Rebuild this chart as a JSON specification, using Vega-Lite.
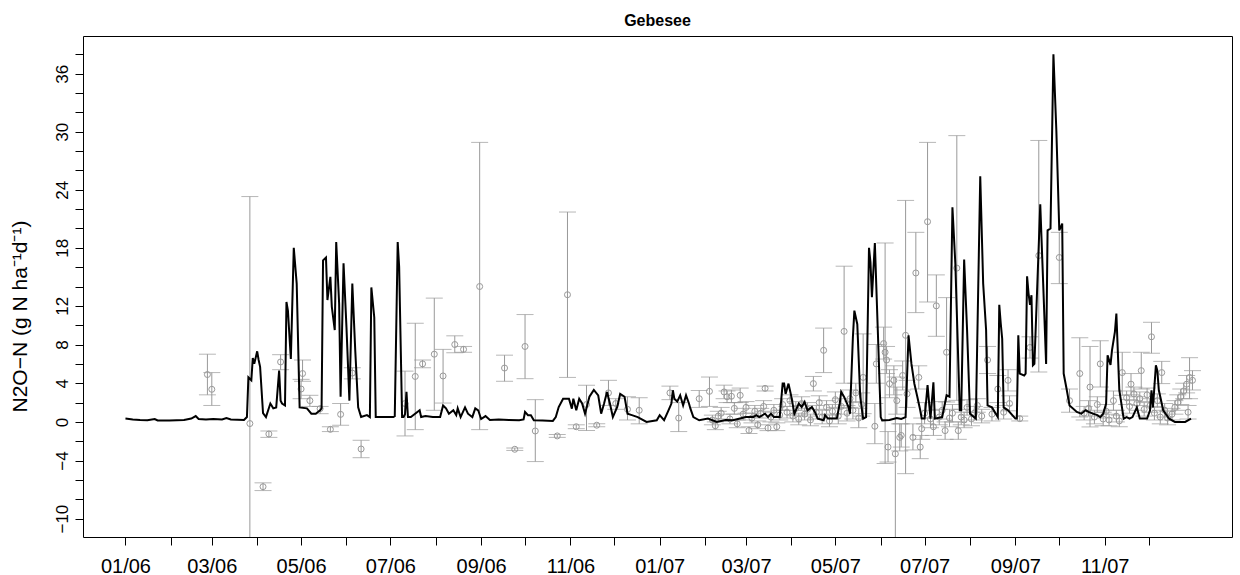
{
  "$schema": "https://vega.github.io/schema/vega-lite/v6.json",
  "autosize": {"type": "none"},
  "padding": {"left": 83, "top": 36, "right": 8, "bottom": 38},
  "width": 1149,
  "height": 501,
  "background": "white",
  "title": {"text": "Gebesee", "fontSize": 16, "fontWeight": "bold", "font": "Liberation Sans", "color": "black", "anchor": "middle", "baseline": "alphabetic", "offset": -6},
  "config": {
    "view": {"stroke": "black", "strokeWidth": 1},
    "axis": {"labelFont": "Liberation Sans", "titleFont": "Liberation Sans", "labelColor": "black", "titleColor": "black", "tickColor": "black", "domain": false, "grid": false, "labelOverlap": false, "labelFlush": false}
  },
  "datasets": {
    "model": [
      {"date": "2006-01-01", "n2o": 0.34}, {"date": "2006-01-06", "n2o": 0.25}, {"date": "2006-01-11", "n2o": 0.2}, {"date": "2006-01-16", "n2o": 0.18}, {"date": "2006-01-21", "n2o": 0.3}, {"date": "2006-01-23", "n2o": 0.15}, {"date": "2006-01-31", "n2o": 0.15}, {"date": "2006-02-10", "n2o": 0.2}, {"date": "2006-02-15", "n2o": 0.35}, {"date": "2006-02-18", "n2o": 0.6}, {"date": "2006-02-20", "n2o": 0.3}, {"date": "2006-02-25", "n2o": 0.25}, {"date": "2006-03-02", "n2o": 0.3}, {"date": "2006-03-08", "n2o": 0.25}, {"date": "2006-03-11", "n2o": 0.4}, {"date": "2006-03-14", "n2o": 0.25}, {"date": "2006-03-23", "n2o": 0.2}, {"date": "2006-03-25", "n2o": 0.5}, {"date": "2006-03-26", "n2o": 4.6}, {"date": "2006-03-28", "n2o": 4.3}, {"date": "2006-03-29", "n2o": 6.6}, {"date": "2006-03-30", "n2o": 6.0}, {"date": "2006-04-01", "n2o": 7.3}, {"date": "2006-04-02", "n2o": 6.4}, {"date": "2006-04-03", "n2o": 5.7}, {"date": "2006-04-05", "n2o": 0.9}, {"date": "2006-04-07", "n2o": 0.5}, {"date": "2006-04-10", "n2o": 1.9}, {"date": "2006-04-12", "n2o": 1.4}, {"date": "2006-04-14", "n2o": 1.5}, {"date": "2006-04-16", "n2o": 5.3}, {"date": "2006-04-17", "n2o": 2.2}, {"date": "2006-04-18", "n2o": 1.9}, {"date": "2006-04-20", "n2o": 1.7}, {"date": "2006-04-21", "n2o": 12.4}, {"date": "2006-04-22", "n2o": 11.5}, {"date": "2006-04-24", "n2o": 6.5}, {"date": "2006-04-26", "n2o": 18.0}, {"date": "2006-04-28", "n2o": 14.3}, {"date": "2006-04-30", "n2o": 1.5}, {"date": "2006-05-05", "n2o": 1.4}, {"date": "2006-05-08", "n2o": 0.85}, {"date": "2006-05-11", "n2o": 0.85}, {"date": "2006-05-14", "n2o": 1.2}, {"date": "2006-05-15", "n2o": 1.4}, {"date": "2006-05-16", "n2o": 16.7}, {"date": "2006-05-18", "n2o": 17.0}, {"date": "2006-05-19", "n2o": 12.6}, {"date": "2006-05-21", "n2o": 15.0}, {"date": "2006-05-22", "n2o": 11.9}, {"date": "2006-05-24", "n2o": 9.5}, {"date": "2006-05-25", "n2o": 18.6}, {"date": "2006-05-27", "n2o": 12.2}, {"date": "2006-05-28", "n2o": 2.6}, {"date": "2006-05-30", "n2o": 16.4}, {"date": "2006-06-01", "n2o": 9.8}, {"date": "2006-06-03", "n2o": 2.2}, {"date": "2006-06-05", "n2o": 14.3}, {"date": "2006-06-07", "n2o": 7.4}, {"date": "2006-06-09", "n2o": 1.5}, {"date": "2006-06-11", "n2o": 0.5}, {"date": "2006-06-15", "n2o": 0.7}, {"date": "2006-06-17", "n2o": 0.5}, {"date": "2006-06-18", "n2o": 13.9}, {"date": "2006-06-20", "n2o": 10.8}, {"date": "2006-06-21", "n2o": 0.5}, {"date": "2006-06-26", "n2o": 0.5}, {"date": "2006-07-03", "n2o": 0.5}, {"date": "2006-07-04", "n2o": 0.6}, {"date": "2006-07-06", "n2o": 18.6}, {"date": "2006-07-07", "n2o": 16.0}, {"date": "2006-07-09", "n2o": 0.5}, {"date": "2006-07-10", "n2o": 0.5}, {"date": "2006-07-11", "n2o": 0.8}, {"date": "2006-07-12", "n2o": 3.1}, {"date": "2006-07-13", "n2o": 0.5}, {"date": "2006-07-15", "n2o": 0.5}, {"date": "2006-07-21", "n2o": 1.2}, {"date": "2006-07-22", "n2o": 0.5}, {"date": "2006-07-25", "n2o": 0.6}, {"date": "2006-07-30", "n2o": 0.5}, {"date": "2006-08-04", "n2o": 0.5}, {"date": "2006-08-06", "n2o": 1.7}, {"date": "2006-08-08", "n2o": 1.4}, {"date": "2006-08-10", "n2o": 0.85}, {"date": "2006-08-13", "n2o": 1.2}, {"date": "2006-08-15", "n2o": 0.7}, {"date": "2006-08-16", "n2o": 1.4}, {"date": "2006-08-18", "n2o": 0.5}, {"date": "2006-08-21", "n2o": 1.5}, {"date": "2006-08-23", "n2o": 0.85}, {"date": "2006-08-26", "n2o": 0.5}, {"date": "2006-08-28", "n2o": 1.4}, {"date": "2006-08-30", "n2o": 1.2}, {"date": "2006-09-01", "n2o": 0.3}, {"date": "2006-09-04", "n2o": 0.6}, {"date": "2006-09-07", "n2o": 0.2}, {"date": "2006-09-13", "n2o": 0.25}, {"date": "2006-09-20", "n2o": 0.2}, {"date": "2006-09-27", "n2o": 0.17}, {"date": "2006-09-30", "n2o": 0.25}, {"date": "2006-10-01", "n2o": 1.03}, {"date": "2006-10-03", "n2o": 0.7}, {"date": "2006-10-05", "n2o": 0.7}, {"date": "2006-10-07", "n2o": 0.17}, {"date": "2006-10-13", "n2o": 0.15}, {"date": "2006-10-20", "n2o": 0.1}, {"date": "2006-10-22", "n2o": 0.5}, {"date": "2006-10-24", "n2o": 1.54}, {"date": "2006-10-27", "n2o": 2.4}, {"date": "2006-10-31", "n2o": 2.4}, {"date": "2006-11-02", "n2o": 1.37}, {"date": "2006-11-03", "n2o": 2.4}, {"date": "2006-11-05", "n2o": 1.2}, {"date": "2006-11-07", "n2o": 2.4}, {"date": "2006-11-09", "n2o": 1.9}, {"date": "2006-11-11", "n2o": 0.85}, {"date": "2006-11-14", "n2o": 2.6}, {"date": "2006-11-17", "n2o": 3.3}, {"date": "2006-11-20", "n2o": 2.75}, {"date": "2006-11-22", "n2o": 0.85}, {"date": "2006-11-24", "n2o": 1.9}, {"date": "2006-11-26", "n2o": 3.1}, {"date": "2006-11-28", "n2o": 1.9}, {"date": "2006-11-30", "n2o": 0.5}, {"date": "2006-12-03", "n2o": 1.54}, {"date": "2006-12-05", "n2o": 2.9}, {"date": "2006-12-08", "n2o": 2.6}, {"date": "2006-12-10", "n2o": 0.85}, {"date": "2006-12-13", "n2o": 0.7}, {"date": "2006-12-17", "n2o": 0.5}, {"date": "2006-12-23", "n2o": 0.0}, {"date": "2006-12-30", "n2o": 0.17},
      {"date": "2007-01-01", "n2o": 0.7}, {"date": "2007-01-04", "n2o": 0.17}, {"date": "2007-01-07", "n2o": 1.2}, {"date": "2007-01-09", "n2o": 1.9}, {"date": "2007-01-10", "n2o": 3.27}, {"date": "2007-01-11", "n2o": 2.4}, {"date": "2007-01-13", "n2o": 2.1}, {"date": "2007-01-15", "n2o": 2.75}, {"date": "2007-01-17", "n2o": 1.7}, {"date": "2007-01-19", "n2o": 2.75}, {"date": "2007-01-21", "n2o": 1.9}, {"date": "2007-01-22", "n2o": 1.37}, {"date": "2007-01-24", "n2o": 0.5}, {"date": "2007-01-28", "n2o": 0.17}, {"date": "2007-02-03", "n2o": 0.34}, {"date": "2007-02-09", "n2o": 0.0}, {"date": "2007-02-15", "n2o": 0.2}, {"date": "2007-02-20", "n2o": 0.17}, {"date": "2007-03-01", "n2o": 0.5}, {"date": "2007-03-06", "n2o": 0.5}, {"date": "2007-03-08", "n2o": 0.7}, {"date": "2007-03-10", "n2o": 0.5}, {"date": "2007-03-14", "n2o": 0.85}, {"date": "2007-03-16", "n2o": 0.5}, {"date": "2007-03-18", "n2o": 0.85}, {"date": "2007-03-20", "n2o": 0.5}, {"date": "2007-03-24", "n2o": 0.5}, {"date": "2007-03-26", "n2o": 3.96}, {"date": "2007-03-27", "n2o": 3.96}, {"date": "2007-03-28", "n2o": 2.9}, {"date": "2007-03-30", "n2o": 3.96}, {"date": "2007-04-01", "n2o": 2.58}, {"date": "2007-04-03", "n2o": 0.85}, {"date": "2007-04-06", "n2o": 1.89}, {"date": "2007-04-08", "n2o": 1.54}, {"date": "2007-04-10", "n2o": 2.06}, {"date": "2007-04-12", "n2o": 1.2}, {"date": "2007-04-15", "n2o": 1.54}, {"date": "2007-04-17", "n2o": 1.03}, {"date": "2007-04-19", "n2o": 0.34}, {"date": "2007-04-23", "n2o": 0.17}, {"date": "2007-04-24", "n2o": 0.7}, {"date": "2007-04-26", "n2o": 0.34}, {"date": "2007-05-02", "n2o": 0.34}, {"date": "2007-05-04", "n2o": 1.89}, {"date": "2007-05-05", "n2o": 3.1}, {"date": "2007-05-07", "n2o": 2.58}, {"date": "2007-05-10", "n2o": 1.54}, {"date": "2007-05-11", "n2o": 0.85}, {"date": "2007-05-13", "n2o": 8.78}, {"date": "2007-05-14", "n2o": 11.5}, {"date": "2007-05-16", "n2o": 10.1}, {"date": "2007-05-18", "n2o": 2.6}, {"date": "2007-05-20", "n2o": 0.34}, {"date": "2007-05-22", "n2o": 0.5}, {"date": "2007-05-24", "n2o": 18.0}, {"date": "2007-05-25", "n2o": 16.5}, {"date": "2007-05-26", "n2o": 12.9}, {"date": "2007-05-28", "n2o": 18.5}, {"date": "2007-05-30", "n2o": 9.5}, {"date": "2007-06-01", "n2o": 0.5}, {"date": "2007-06-02", "n2o": 0.16}, {"date": "2007-06-07", "n2o": 0.2}, {"date": "2007-06-12", "n2o": 0.4}, {"date": "2007-06-15", "n2o": 0.3}, {"date": "2007-06-18", "n2o": 0.5}, {"date": "2007-06-20", "n2o": 8.95}, {"date": "2007-06-22", "n2o": 6.0}, {"date": "2007-06-24", "n2o": 3.95}, {"date": "2007-06-26", "n2o": 2.6}, {"date": "2007-06-28", "n2o": 1.2}, {"date": "2007-06-29", "n2o": 0.34}, {"date": "2007-07-01", "n2o": 0.34}, {"date": "2007-07-03", "n2o": 3.8}, {"date": "2007-07-05", "n2o": 0.34}, {"date": "2007-07-07", "n2o": 4.1}, {"date": "2007-07-08", "n2o": 0.34}, {"date": "2007-07-13", "n2o": 0.5}, {"date": "2007-07-16", "n2o": 2.75}, {"date": "2007-07-18", "n2o": 2.6}, {"date": "2007-07-20", "n2o": 22.2}, {"date": "2007-07-22", "n2o": 16.3}, {"date": "2007-07-25", "n2o": 1.2}, {"date": "2007-07-26", "n2o": 1.2}, {"date": "2007-07-28", "n2o": 16.8}, {"date": "2007-07-30", "n2o": 9.5}, {"date": "2007-08-01", "n2o": 0.85}, {"date": "2007-08-05", "n2o": 0.34}, {"date": "2007-08-08", "n2o": 25.4}, {"date": "2007-08-10", "n2o": 14.3}, {"date": "2007-08-12", "n2o": 9.5}, {"date": "2007-08-13", "n2o": 1.7}, {"date": "2007-08-16", "n2o": 1.5}, {"date": "2007-08-20", "n2o": 0.5}, {"date": "2007-08-21", "n2o": 12.1}, {"date": "2007-08-22", "n2o": 10.2}, {"date": "2007-08-23", "n2o": 8.6}, {"date": "2007-08-24", "n2o": 1.5}, {"date": "2007-08-27", "n2o": 1.2}, {"date": "2007-09-01", "n2o": 0.34}, {"date": "2007-09-02", "n2o": 0.34}, {"date": "2007-09-03", "n2o": 8.95}, {"date": "2007-09-04", "n2o": 5.0}, {"date": "2007-09-07", "n2o": 4.8}, {"date": "2007-09-08", "n2o": 5.0}, {"date": "2007-09-09", "n2o": 15.05}, {"date": "2007-09-10", "n2o": 13.3}, {"date": "2007-09-11", "n2o": 12.1}, {"date": "2007-09-12", "n2o": 13.1}, {"date": "2007-09-13", "n2o": 5.85}, {"date": "2007-09-14", "n2o": 6.0}, {"date": "2007-09-18", "n2o": 22.5}, {"date": "2007-09-20", "n2o": 14.3}, {"date": "2007-09-22", "n2o": 6.0}, {"date": "2007-09-23", "n2o": 19.8}, {"date": "2007-09-25", "n2o": 20.0}, {"date": "2007-09-27", "n2o": 38.0}, {"date": "2007-09-29", "n2o": 30.1}, {"date": "2007-10-01", "n2o": 19.8}, {"date": "2007-10-03", "n2o": 20.5}, {"date": "2007-10-04", "n2o": 5.0}, {"date": "2007-10-06", "n2o": 3.4}, {"date": "2007-10-08", "n2o": 1.7}, {"date": "2007-10-13", "n2o": 1.03}, {"date": "2007-10-16", "n2o": 0.85}, {"date": "2007-10-19", "n2o": 1.2}, {"date": "2007-10-21", "n2o": 1.03}, {"date": "2007-10-24", "n2o": 0.85}, {"date": "2007-10-27", "n2o": 0.7}, {"date": "2007-10-29", "n2o": 0.5}, {"date": "2007-10-31", "n2o": 0.85}, {"date": "2007-11-02", "n2o": 1.9}, {"date": "2007-11-03", "n2o": 6.9}, {"date": "2007-11-05", "n2o": 5.9}, {"date": "2007-11-06", "n2o": 7.4}, {"date": "2007-11-08", "n2o": 9.3}, {"date": "2007-11-09", "n2o": 11.2}, {"date": "2007-11-11", "n2o": 3.3}, {"date": "2007-11-14", "n2o": 0.34}, {"date": "2007-11-16", "n2o": 0.5}, {"date": "2007-11-18", "n2o": 0.34}, {"date": "2007-11-20", "n2o": 0.5}, {"date": "2007-11-23", "n2o": 1.5}, {"date": "2007-11-25", "n2o": 0.34}, {"date": "2007-11-30", "n2o": 0.34}, {"date": "2007-12-02", "n2o": 1.2}, {"date": "2007-12-03", "n2o": 3.26}, {"date": "2007-12-04", "n2o": 1.5}, {"date": "2007-12-06", "n2o": 5.85}, {"date": "2007-12-07", "n2o": 5.3}, {"date": "2007-12-08", "n2o": 3.3}, {"date": "2007-12-11", "n2o": 1.2}, {"date": "2007-12-15", "n2o": 0.34}, {"date": "2007-12-19", "n2o": 0.0}, {"date": "2007-12-26", "n2o": 0.0}, {"date": "2007-12-30", "n2o": 0.34}
    ],
    "obs": [
      {"date": "2006-02-26", "n2o": 4.9, "lo": 2.8, "hi": 7.0}, {"date": "2006-03-01", "n2o": 3.37, "lo": 1.7, "hi": 5.1}, {"date": "2006-03-27", "n2o": -0.17, "lo": -13, "hi": 23.3}, {"date": "2006-04-05", "n2o": -6.7, "lo": -7.1, "hi": -6.3}, {"date": "2006-04-09", "n2o": -1.25, "lo": -1.6, "hi": -0.94}, {"date": "2006-04-17", "n2o": 6.2, "lo": 5.4, "hi": 6.95}, {"date": "2006-05-01", "n2o": 3.4, "lo": 2.4, "hi": 4.4}, {"date": "2006-05-02", "n2o": 5.0, "lo": 4.2, "hi": 6.4}, {"date": "2006-05-07", "n2o": 2.2, "lo": 1.6, "hi": 2.75}, {"date": "2006-05-14", "n2o": 1.37, "lo": 0.85, "hi": 1.6}, {"date": "2006-05-21", "n2o": -0.77, "lo": -1.0, "hi": -0.5}, {"date": "2006-05-28", "n2o": 0.78, "lo": -0.35, "hi": 1.9}, {"date": "2006-06-05", "n2o": 5.05, "lo": 4.45, "hi": 5.6}, {"date": "2006-06-11", "n2o": -2.8, "lo": -3.7, "hi": -1.9}, {"date": "2006-07-11", "n2o": 1.9, "lo": -1.45, "hi": 5.25}, {"date": "2006-07-18", "n2o": 4.7, "lo": -0.8, "hi": 10.2}, {"date": "2006-07-23", "n2o": 6.0, "lo": 5.6, "hi": 6.4}, {"date": "2006-07-31", "n2o": 7.0, "lo": 1.2, "hi": 12.8}, {"date": "2006-08-06", "n2o": 4.75, "lo": 1.95, "hi": 7.5}, {"date": "2006-08-14", "n2o": 8.0, "lo": 7.15, "hi": 8.9}, {"date": "2006-08-20", "n2o": 7.5, "lo": 7.2, "hi": 7.8}, {"date": "2006-08-31", "n2o": 14.0, "lo": -0.8, "hi": 28.9}, {"date": "2006-09-17", "n2o": 5.57, "lo": 4.2, "hi": 6.9}, {"date": "2006-09-24", "n2o": -2.83, "lo": -2.95, "hi": -2.7}, {"date": "2006-10-01", "n2o": 7.8, "lo": 4.47, "hi": 11.1}, {"date": "2006-10-08", "n2o": -0.94, "lo": -4.1, "hi": 2.3}, {"date": "2006-10-23", "n2o": -1.45, "lo": -1.6, "hi": -1.3}, {"date": "2006-10-30", "n2o": 13.15, "lo": 4.6, "hi": 21.7}, {"date": "2006-11-05", "n2o": -0.5, "lo": -0.7, "hi": -0.3}, {"date": "2006-11-12", "n2o": 1.8, "lo": -0.9, "hi": 3.8}, {"date": "2006-11-19", "n2o": -0.34, "lo": -0.5, "hi": -0.2}, {"date": "2006-11-27", "n2o": 3.0, "lo": 1.7, "hi": 4.3}, {"date": "2006-12-02", "n2o": 1.9, "lo": 1.3, "hi": 2.4}, {"date": "2006-12-10", "n2o": 1.3, "lo": 0.2, "hi": 2.6}, {"date": "2006-12-18", "n2o": 1.2, "lo": -0.2, "hi": 2.5},
      {"date": "2007-01-08", "n2o": 3.0, "lo": 2.3, "hi": 3.7}, {"date": "2007-01-14", "n2o": 0.4, "lo": -1.0, "hi": 2.0}, {"date": "2007-01-28", "n2o": 2.4, "lo": 1.5, "hi": 3.25}, {"date": "2007-02-04", "n2o": 3.16, "lo": 1.6, "hi": 4.64}, {"date": "2007-02-06", "n2o": 0.2, "lo": -0.3, "hi": 0.7}, {"date": "2007-02-08", "n2o": -0.4, "lo": -0.8, "hi": 0.0}, {"date": "2007-02-10", "n2o": 0.6, "lo": 0.1, "hi": 1.1}, {"date": "2007-02-12", "n2o": 0.9, "lo": 0.3, "hi": 1.5}, {"date": "2007-02-14", "n2o": 3.1, "lo": 2.4, "hi": 3.8}, {"date": "2007-02-16", "n2o": 2.6, "lo": 2.0, "hi": 3.2}, {"date": "2007-02-18", "n2o": 0.3, "lo": -0.2, "hi": 0.8}, {"date": "2007-02-19", "n2o": 2.65, "lo": 2.0, "hi": 3.3}, {"date": "2007-02-21", "n2o": 1.4, "lo": 0.8, "hi": 2.0}, {"date": "2007-02-23", "n2o": -0.2, "lo": -0.6, "hi": 0.2}, {"date": "2007-02-25", "n2o": 2.75, "lo": 2.0, "hi": 3.5}, {"date": "2007-02-27", "n2o": 0.8, "lo": 0.2, "hi": 1.4}, {"date": "2007-03-01", "n2o": 1.5, "lo": 0.9, "hi": 2.1}, {"date": "2007-03-03", "n2o": -0.87, "lo": -1.2, "hi": -0.5}, {"date": "2007-03-05", "n2o": 0.4, "lo": -0.1, "hi": 0.9}, {"date": "2007-03-07", "n2o": 1.1, "lo": 0.5, "hi": 1.7}, {"date": "2007-03-09", "n2o": -0.3, "lo": -0.7, "hi": 0.1}, {"date": "2007-03-11", "n2o": 0.9, "lo": 0.4, "hi": 1.4}, {"date": "2007-03-13", "n2o": 1.6, "lo": 1.1, "hi": 2.2}, {"date": "2007-03-14", "n2o": 3.47, "lo": 3.2, "hi": 3.7}, {"date": "2007-03-16", "n2o": -0.63, "lo": -0.9, "hi": -0.3}, {"date": "2007-03-18", "n2o": 0.5, "lo": 0.0, "hi": 1.0}, {"date": "2007-03-20", "n2o": 1.2, "lo": 0.6, "hi": 1.8}, {"date": "2007-03-22", "n2o": -0.5, "lo": -0.9, "hi": -0.1}, {"date": "2007-03-24", "n2o": 0.7, "lo": 0.2, "hi": 1.2}, {"date": "2007-03-26", "n2o": 1.8, "lo": 1.2, "hi": 2.4}, {"date": "2007-03-29", "n2o": 1.0, "lo": 0.4, "hi": 1.6}, {"date": "2007-03-31", "n2o": 2.2, "lo": 1.6, "hi": 2.8}, {"date": "2007-04-02", "n2o": 0.6, "lo": 0.0, "hi": 1.2}, {"date": "2007-04-04", "n2o": 1.4, "lo": 0.7, "hi": 2.1}, {"date": "2007-04-06", "n2o": 0.3, "lo": -0.3, "hi": 0.9}, {"date": "2007-04-08", "n2o": 1.9, "lo": 1.2, "hi": 2.6}, {"date": "2007-04-10", "n2o": 0.8, "lo": 0.2, "hi": 1.4}, {"date": "2007-04-12", "n2o": 1.3, "lo": 0.6, "hi": 2.0}, {"date": "2007-04-14", "n2o": 0.2, "lo": -0.4, "hi": 0.8}, {"date": "2007-04-16", "n2o": 3.96, "lo": 3.2, "hi": 4.7}, {"date": "2007-04-18", "n2o": 1.0, "lo": 0.3, "hi": 1.7}, {"date": "2007-04-20", "n2o": 2.0, "lo": 1.3, "hi": 2.7}, {"date": "2007-04-22", "n2o": 0.5, "lo": -0.2, "hi": 1.2}, {"date": "2007-04-23", "n2o": 7.4, "lo": 5.1, "hi": 9.7}, {"date": "2007-04-25", "n2o": 1.5, "lo": 0.8, "hi": 2.2}, {"date": "2007-04-27", "n2o": 0.1, "lo": -0.5, "hi": 0.7}, {"date": "2007-04-29", "n2o": 1.1, "lo": 0.4, "hi": 1.8}, {"date": "2007-05-01", "n2o": 2.3, "lo": 1.5, "hi": 3.1}, {"date": "2007-05-03", "n2o": 0.6, "lo": -0.2, "hi": 1.4}, {"date": "2007-05-05", "n2o": 1.6, "lo": 0.8, "hi": 2.4}, {"date": "2007-05-07", "n2o": 9.36, "lo": 4.0, "hi": 16.1}, {"date": "2007-05-09", "n2o": 0.9, "lo": 0.1, "hi": 1.7}, {"date": "2007-05-11", "n2o": 2.4, "lo": 1.5, "hi": 3.3}, {"date": "2007-05-13", "n2o": 1.2, "lo": 0.3, "hi": 2.1}, {"date": "2007-05-15", "n2o": 3.0, "lo": 2.0, "hi": 4.0}, {"date": "2007-05-17", "n2o": 0.4, "lo": -0.6, "hi": 1.4}, {"date": "2007-05-19", "n2o": 1.8, "lo": 0.6, "hi": 3.0}, {"date": "2007-05-20", "n2o": 4.6, "lo": 0.85, "hi": 9.1}, {"date": "2007-05-28", "n2o": -0.45, "lo": -2.25, "hi": 1.9}, {"date": "2007-05-29", "n2o": 6.0, "lo": 4.0, "hi": 8.0}, {"date": "2007-06-03", "n2o": 8.1, "lo": 6.5, "hi": 9.8}, {"date": "2007-06-04", "n2o": 7.2, "lo": -4.3, "hi": 18.5}, {"date": "2007-06-05", "n2o": 6.4, "lo": 5.0, "hi": 7.8}, {"date": "2007-06-06", "n2o": -2.6, "lo": -4.15, "hi": -1.0}, {"date": "2007-06-07", "n2o": 3.95, "lo": 2.5, "hi": 5.4}, {"date": "2007-06-10", "n2o": 4.3, "lo": 2.8, "hi": 5.8}, {"date": "2007-06-11", "n2o": -3.3, "lo": -13, "hi": 4.64}, {"date": "2007-06-12", "n2o": 2.2, "lo": 0.8, "hi": 3.6}, {"date": "2007-06-14", "n2o": -1.6, "lo": -3.0, "hi": -0.2}, {"date": "2007-06-15", "n2o": -1.4, "lo": -2.6, "hi": -0.2}, {"date": "2007-06-16", "n2o": 4.8, "lo": 3.3, "hi": 6.3}, {"date": "2007-06-18", "n2o": 8.95, "lo": -5.35, "hi": 22.9}, {"date": "2007-06-19", "n2o": 2.9, "lo": 1.5, "hi": 4.3}, {"date": "2007-06-23", "n2o": -1.6, "lo": -2.9, "hi": -0.2}, {"date": "2007-06-25", "n2o": 15.4, "lo": 11.3, "hi": 19.6}, {"date": "2007-06-27", "n2o": 4.6, "lo": 3.4, "hi": 5.8}, {"date": "2007-06-28", "n2o": -2.6, "lo": -3.8, "hi": -1.4}, {"date": "2007-06-29", "n2o": -0.7, "lo": -1.8, "hi": 0.4}, {"date": "2007-07-01", "n2o": 0.9, "lo": -0.2, "hi": 2.0}, {"date": "2007-07-03", "n2o": 20.7, "lo": 12.4, "hi": 28.9}, {"date": "2007-07-05", "n2o": 0.3, "lo": -0.6, "hi": 1.2}, {"date": "2007-07-07", "n2o": -0.5, "lo": -1.4, "hi": 0.4}, {"date": "2007-07-09", "n2o": 12.0, "lo": 8.85, "hi": 15.2}, {"date": "2007-07-11", "n2o": 0.5, "lo": -0.3, "hi": 1.3}, {"date": "2007-07-13", "n2o": 1.2, "lo": 0.3, "hi": 2.1}, {"date": "2007-07-15", "n2o": -0.9, "lo": -1.8, "hi": 0.0}, {"date": "2007-07-16", "n2o": 7.2, "lo": 2.06, "hi": 12.85}, {"date": "2007-07-18", "n2o": 0.4, "lo": -0.5, "hi": 1.3}, {"date": "2007-07-20", "n2o": 0.9, "lo": 0.0, "hi": 1.8}, {"date": "2007-07-23", "n2o": 15.9, "lo": 2.23, "hi": 29.6}, {"date": "2007-07-24", "n2o": -0.9, "lo": -1.8, "hi": 0.0}, {"date": "2007-07-26", "n2o": 0.5, "lo": -0.3, "hi": 1.3}, {"date": "2007-07-28", "n2o": 0.2, "lo": -0.6, "hi": 1.0}, {"date": "2007-07-30", "n2o": 1.5, "lo": 0.7, "hi": 2.3}, {"date": "2007-08-02", "n2o": 0.3, "lo": -0.4, "hi": 1.0}, {"date": "2007-08-04", "n2o": 0.9, "lo": 0.2, "hi": 1.6}, {"date": "2007-08-06", "n2o": 1.7, "lo": 1.0, "hi": 2.4}, {"date": "2007-08-09", "n2o": 0.6, "lo": -0.1, "hi": 1.3}, {"date": "2007-08-13", "n2o": 6.4, "lo": 5.0, "hi": 7.8}, {"date": "2007-08-16", "n2o": 0.8, "lo": 0.1, "hi": 1.5}, {"date": "2007-08-20", "n2o": 3.4, "lo": 2.0, "hi": 4.8}, {"date": "2007-08-24", "n2o": 1.0, "lo": 0.3, "hi": 1.7}, {"date": "2007-08-27", "n2o": 4.3, "lo": 3.2, "hi": 5.4}, {"date": "2007-08-28", "n2o": 1.9, "lo": 1.15, "hi": 2.7}, {"date": "2007-09-04", "n2o": 0.34, "lo": 0.1, "hi": 0.6}, {"date": "2007-09-11", "n2o": 7.7, "lo": 6.6, "hi": 8.8}, {"date": "2007-09-17", "n2o": 17.2, "lo": 5.16, "hi": 29.1}, {"date": "2007-10-01", "n2o": 17.0, "lo": 14.3, "hi": 19.6}, {"date": "2007-10-08", "n2o": 2.2, "lo": 1.0, "hi": 3.4}, {"date": "2007-10-15", "n2o": 5.0, "lo": 0.51, "hi": 8.7}, {"date": "2007-10-18", "n2o": 0.9, "lo": 0.2, "hi": 1.6}, {"date": "2007-10-21", "n2o": 1.4, "lo": 0.6, "hi": 2.2}, {"date": "2007-10-22", "n2o": 3.6, "lo": -0.52, "hi": 7.8}, {"date": "2007-10-25", "n2o": 0.5, "lo": -0.2, "hi": 1.2}, {"date": "2007-10-27", "n2o": 1.8, "lo": 1.0, "hi": 2.6}, {"date": "2007-10-29", "n2o": 6.0, "lo": 3.6, "hi": 8.4}, {"date": "2007-10-31", "n2o": 0.3, "lo": -0.4, "hi": 1.0}, {"date": "2007-11-02", "n2o": 1.1, "lo": 0.4, "hi": 1.8}, {"date": "2007-11-04", "n2o": 0.2, "lo": -0.4, "hi": 0.8}, {"date": "2007-11-07", "n2o": 2.2, "lo": 1.2, "hi": 3.2}, {"date": "2007-11-09", "n2o": 0.6, "lo": 0.0, "hi": 1.2}, {"date": "2007-11-11", "n2o": 0.1, "lo": -0.5, "hi": 0.7}, {"date": "2007-11-13", "n2o": 5.1, "lo": 2.75, "hi": 7.2}, {"date": "2007-11-16", "n2o": 2.5, "lo": 1.8, "hi": 3.2}, {"date": "2007-11-18", "n2o": 1.6, "lo": 0.9, "hi": 2.3}, {"date": "2007-11-19", "n2o": 3.9, "lo": 2.8, "hi": 5.0}, {"date": "2007-11-21", "n2o": 2.9, "lo": 2.2, "hi": 3.6}, {"date": "2007-11-23", "n2o": 1.9, "lo": 1.2, "hi": 2.6}, {"date": "2007-11-25", "n2o": 2.4, "lo": 1.7, "hi": 3.1}, {"date": "2007-11-26", "n2o": 5.3, "lo": 3.4, "hi": 7.2}, {"date": "2007-11-28", "n2o": 1.3, "lo": 0.6, "hi": 2.0}, {"date": "2007-11-30", "n2o": 2.8, "lo": 2.1, "hi": 3.5}, {"date": "2007-12-02", "n2o": 1.7, "lo": 1.0, "hi": 2.4}, {"date": "2007-12-03", "n2o": 8.8, "lo": 7.1, "hi": 10.3}, {"date": "2007-12-05", "n2o": 0.9, "lo": 0.2, "hi": 1.6}, {"date": "2007-12-07", "n2o": 2.2, "lo": 1.5, "hi": 2.9}, {"date": "2007-12-09", "n2o": 0.5, "lo": -0.2, "hi": 1.2}, {"date": "2007-12-10", "n2o": 5.1, "lo": 3.96, "hi": 6.26}, {"date": "2007-12-12", "n2o": 1.2, "lo": 0.5, "hi": 1.9}, {"date": "2007-12-14", "n2o": 0.4, "lo": -0.3, "hi": 1.1}, {"date": "2007-12-17", "n2o": 0.8, "lo": 0.2, "hi": 1.4}, {"date": "2007-12-19", "n2o": 1.5, "lo": 0.8, "hi": 2.2}, {"date": "2007-12-21", "n2o": 2.0, "lo": 1.2, "hi": 2.8}, {"date": "2007-12-23", "n2o": 2.6, "lo": 1.8, "hi": 3.4}, {"date": "2007-12-25", "n2o": 3.2, "lo": 2.4, "hi": 4.0}, {"date": "2007-12-27", "n2o": 3.9, "lo": 3.0, "hi": 4.8}, {"date": "2007-12-28", "n2o": 1.0, "lo": 0.3, "hi": 1.7}, {"date": "2007-12-29", "n2o": 4.6, "lo": 2.4, "hi": 6.64}, {"date": "2007-12-31", "n2o": 4.3, "lo": 3.3, "hi": 5.3}
    ]
  },
  "encoding": {
    "x": {
      "field": "date", "type": "temporal",
      "scale": {"type": "utc", "domain": [{"year": 2005, "month": 12, "date": 3, "utc": true}, {"year": 2008, "month": 1, "date": 27, "utc": true}]},
      "axis": {
        "title": null, "tickSize": 8, "tickCount": 100, "labelFontSize": 20, "labelPadding": 11,
        "values": [
          {"year": 2006, "month": 1, "date": 1, "utc": true}, {"year": 2006, "month": 2, "date": 1, "utc": true}, {"year": 2006, "month": 3, "date": 1, "utc": true}, {"year": 2006, "month": 4, "date": 1, "utc": true}, {"year": 2006, "month": 5, "date": 1, "utc": true}, {"year": 2006, "month": 6, "date": 1, "utc": true}, {"year": 2006, "month": 7, "date": 1, "utc": true}, {"year": 2006, "month": 8, "date": 1, "utc": true}, {"year": 2006, "month": 9, "date": 1, "utc": true}, {"year": 2006, "month": 10, "date": 1, "utc": true}, {"year": 2006, "month": 11, "date": 1, "utc": true}, {"year": 2006, "month": 12, "date": 1, "utc": true},
          {"year": 2007, "month": 1, "date": 1, "utc": true}, {"year": 2007, "month": 2, "date": 1, "utc": true}, {"year": 2007, "month": 3, "date": 1, "utc": true}, {"year": 2007, "month": 4, "date": 1, "utc": true}, {"year": 2007, "month": 5, "date": 1, "utc": true}, {"year": 2007, "month": 6, "date": 1, "utc": true}, {"year": 2007, "month": 7, "date": 1, "utc": true}, {"year": 2007, "month": 8, "date": 1, "utc": true}, {"year": 2007, "month": 9, "date": 1, "utc": true}, {"year": 2007, "month": 10, "date": 1, "utc": true}, {"year": 2007, "month": 11, "date": 1, "utc": true}, {"year": 2007, "month": 12, "date": 1, "utc": true}
        ],
        "labelExpr": "utcmonth(datum.value) % 2 == 0 ? utcFormat(datum.value, '%m/%y') : ''"
      }
    }
  },
  "layer": [
    {
      "data": {"name": "obs"},
      "mark": {"type": "rule", "color": "#999999", "strokeWidth": 1, "clip": true},
      "encoding": {
        "y": {"field": "lo", "type": "quantitative",
          "scale": {"domain": [-11.9, 39.9], "nice": false, "zero": false},
          "axis": {
            "title": "N2O−N (g N ha⁻¹d⁻¹)", "titleFontSize": 21, "titleFontWeight": "normal", "titlePadding": 23, "titleY": 280,
            "tickSize": 8, "tickCount": 100, "labelFontSize": 17, "labelPadding": 8, "labelAngle": -90, "labelAlign": "center", "labelBaseline": "alphabetic", "format": "d",
            "values": [-10, -8, -6, -4, -2, 0, 2, 4, 6, 8, 10, 12, 14, 16, 18, 20, 22, 24, 26, 28, 30, 32, 34, 36, 38],
            "labelExpr": "indexof([-10, -4, 0, 4, 8, 12, 18, 24, 30, 36], datum.value) >= 0 ? datum.label : ''"
          }
        },
        "y2": {"field": "hi"}
      }
    },
    {
      "data": {"name": "obs"},
      "mark": {"type": "tick", "orient": "horizontal", "size": 17, "thickness": 1, "color": "#999999", "clip": true},
      "encoding": {"y": {"field": "lo", "type": "quantitative"}}
    },
    {
      "data": {"name": "obs"},
      "mark": {"type": "tick", "orient": "horizontal", "size": 17, "thickness": 1, "color": "#999999", "clip": true},
      "encoding": {"y": {"field": "hi", "type": "quantitative"}}
    },
    {
      "data": {"name": "obs"},
      "mark": {"type": "point", "shape": "circle", "filled": false, "size": 36, "stroke": "#999999", "strokeWidth": 1, "opacity": 1, "clip": true},
      "encoding": {"y": {"field": "n2o", "type": "quantitative"}}
    },
    {
      "data": {"name": "model"},
      "mark": {"type": "line", "color": "black", "strokeWidth": 2, "clip": true},
      "encoding": {"y": {"field": "n2o", "type": "quantitative"}}
    }
  ]
}
